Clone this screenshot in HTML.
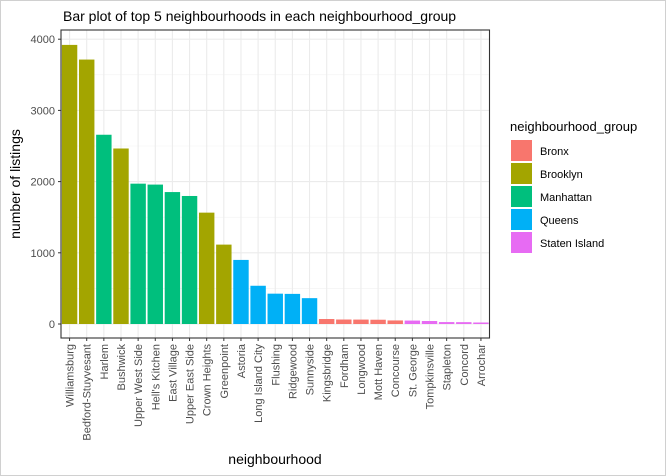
<!DOCTYPE html>
<html><head><meta charset="utf-8"><style>
body{margin:0;background:#fff;}
svg{display:block;font-family:"Liberation Sans",sans-serif;}
</style></head><body>
<svg id="chart" width="666" height="476">
<rect x="0.5" y="0.5" width="665" height="475" fill="#fff" stroke="#d0d0d0"/>
<text x="63" y="21" font-size="14" fill="#000">Bar plot of top 5 neighbourhoods in each neighbourhood_group</text>
<g id="grid"></g><g id="bars"></g><g id="axes"></g>
<text transform="translate(20,184) rotate(-90)" text-anchor="middle" font-size="14" fill="#000">number of listings</text>
<text x="275" y="464" text-anchor="middle" font-size="14" fill="#000">neighbourhood</text>
<g id="legend"></g>
</svg>
<script>
const categories=["Williamsburg","Bedford-Stuyvesant","Harlem","Bushwick","Upper West Side","Hell's Kitchen","East Village","Upper East Side","Crown Heights","Greenpoint","Astoria","Long Island City","Flushing","Ridgewood","Sunnyside","Kingsbridge","Fordham","Longwood","Mott Haven","Concourse","St. George","Tompkinsville","Stapleton","Concord","Arrochar"];
const values=[3920,3714,2658,2465,1971,1958,1853,1798,1564,1115,900,537,426,423,363,70,63,62,60,50,48,42,27,26,21];
const groups=["Brooklyn","Brooklyn","Manhattan","Brooklyn","Manhattan","Manhattan","Manhattan","Manhattan","Brooklyn","Brooklyn","Queens","Queens","Queens","Queens","Queens","Bronx","Bronx","Bronx","Bronx","Bronx","Staten Island","Staten Island","Staten Island","Staten Island","Staten Island"];
const groupNames=["Bronx","Brooklyn","Manhattan","Queens","Staten Island"];
const groupColors=["#F8766D","#A3A500","#00BF7D","#00B0F6","#E76BF3"];
const yTicks=[0,1000,2000,3000,4000];
const NS="http://www.w3.org/2000/svg";
const L=61,R=489.5,T=30,B=338,Y0=324,PX=71.2/1000;
const step=(R-L)/categories.length;
const y=v=>Y0-v*PX, x=i=>L+step*(i+0.5);
function mk(tag,attrs,parent){const e=document.createElementNS(NS,tag);for(const k in attrs)e.setAttribute(k,attrs[k]);parent.appendChild(e);return e;}
const grid=document.getElementById('grid'),bars=document.getElementById('bars'),axes=document.getElementById('axes'),leg=document.getElementById('legend');
mk('rect',{x:L,y:T,width:R-L,height:B-T,fill:'#fff'},grid);
for(let i=0;i<yTicks.length-1;i++){const l=mk('line',{x1:L,x2:R,y1:y((yTicks[i]+yTicks[i+1])/2),y2:y((yTicks[i]+yTicks[i+1])/2),stroke:'#f2f2f2','stroke-width':0.6},grid);}
yTicks.forEach(t=>{const l=mk('line',{x1:L,x2:R,y1:y(t),y2:y(t),stroke:'#ebebeb','stroke-width':1.1},grid);
const tx=mk('text',{x:L-6,y:y(t)+4,'text-anchor':'end','font-size':11,fill:'#4d4d4d'},axes);tx.textContent=t;
mk('line',{x1:L-3,x2:L,y1:y(t),y2:y(t),stroke:'#333'},axes);});
categories.forEach((c,i)=>{const g=mk('line',{x1:x(i),x2:x(i),y1:T,y2:B,stroke:'#ebebeb','stroke-width':1.1},grid);
const bw=step*0.9;const col=groupColors[groupNames.indexOf(groups[i])];
const b=mk('rect',{x:x(i)-bw/2,y:y(values[i]),width:bw,height:values[i]*PX,fill:col},bars);
mk('line',{x1:x(i),x2:x(i),y1:B,y2:B+3,stroke:'#333'},axes);
const tx=mk('text',{transform:`translate(${x(i)+4},${B+6}) rotate(-90)`,'text-anchor':'end','font-size':11,fill:'#4d4d4d'},axes);tx.textContent=c;});
const fr=mk('rect',{x:L,y:T,width:R-L,height:B-T,fill:'none',stroke:'#333','stroke-width':1.1},axes);
const lt=mk('text',{x:510,y:131,'font-size':13,fill:'#000'},leg);lt.textContent='neighbourhood_group';
groupNames.forEach((g,i)=>{const yy=140+i*23;const r=mk('rect',{x:511,y:yy,width:21,height:21,fill:groupColors[i]},leg);
const t=mk('text',{x:540,y:yy+15,'font-size':11,fill:'#000'},leg);t.textContent=g;});
</script>
</body></html>
